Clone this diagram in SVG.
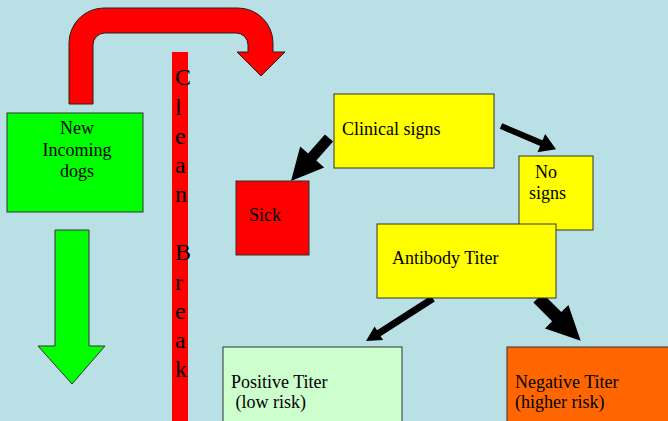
<svg xmlns="http://www.w3.org/2000/svg" width="668" height="421" viewBox="0 0 668 421">
<style>
.box{stroke:#333;stroke-width:1}
.t{font-family:"Liberation Serif","Times New Roman",serif;font-size:18px;fill:#000}
.cb{font-family:"Liberation Serif","Times New Roman",serif;font-size:24px;fill:#000}
.arr{fill:#000}
</style>
<rect width="668" height="421" fill="#B9E0E4"/>
<g id="uturn">
<path d="M69,104 L69,43 A35,35 0 0 1 104,8 L238,8 A35,35 0 0 1 273,43 L273,52 L285,52 L261,76 L237,52 L248,52 L248,45 A12,12 0 0 0 236,33 L105,33 A12,12 0 0 0 93,45 L93,104 Z" fill="#FF0000" stroke="#222" stroke-width="1"/>
</g>
<g id="clean-break">
<rect x="172" y="52" width="16" height="369" fill="#FF0000"/>
<text class="cb" x="175" y="85">C</text>
<text class="cb" x="175" y="115">l</text>
<text class="cb" x="175" y="144">e</text>
<text class="cb" x="175" y="173">a</text>
<text class="cb" x="175" y="202">n</text>
<text class="cb" x="175" y="260">B</text>
<text class="cb" x="175" y="290">r</text>
<text class="cb" x="175" y="319">e</text>
<text class="cb" x="175" y="348">a</text>
<text class="cb" x="175" y="377">k</text>
</g>
<g id="new-dogs">
<rect class="box" x="7" y="113" width="136" height="99" fill="#00FF00"/>
<text class="t" x="77" y="134" text-anchor="middle">New</text>
<text class="t" x="77" y="156" text-anchor="middle">Incoming</text>
<text class="t" x="77" y="177" text-anchor="middle">dogs</text>
</g>
<g id="down-arrow">
<path d="M55,230 L89,230 L89,346 L105,346 L72,384 L38,346 L55,346 Z" fill="#00FF00" stroke="#333" stroke-width="1"/>
</g>
<g id="connectors">
<polygon class="arr" points="333.1,141.6 316.3,160.6 324.2,167.6 291,181 300.2,146.4 308.1,153.4 324.9,134.4"/>
<polygon class="arr" points="499.8,128.8 540.1,145.9 537.4,152.3 556,149.3 545.2,133.9 542.5,140.3 502.2,123.2"/>
<polygon class="arr" points="434.8,301.5 380.6,336.2 383.2,340 366,341 374.6,326.4 377,330.2 431.2,295.5"/>
<polygon class="arr" points="533.4,302.6 552.1,321.3 545,328.4 580.7,340.7 568.4,305 561.3,312.1 542.6,293.4"/>
</g>
<g id="clinical">
<rect class="box" x="334" y="94" width="160" height="74" fill="#FFFF00"/>
<text class="t" x="342" y="135">Clinical signs</text>
</g>
<g id="sick">
<rect class="box" x="236" y="181" width="73" height="74" fill="#FF0000"/>
<text class="t" x="249" y="221">Sick</text>
</g>
<g id="no-signs">
<rect class="box" x="519" y="156" width="74" height="74" fill="#FFFF00"/>
<text class="t" x="535" y="178">No</text>
<text class="t" x="529" y="199">signs</text>
</g>
<g id="antibody">
<rect class="box" x="377" y="224" width="179" height="74" fill="#FFFF00"/>
<text class="t" x="392" y="264">Antibody Titer</text>
</g>
<g id="positive">
<rect class="box" x="223" y="347" width="179" height="80" fill="#CCFFCC"/>
<text class="t" x="231" y="388">Positive Titer</text>
<text class="t" x="231" y="408" xml:space="preserve"> (low risk)</text>
</g>
<g id="negative">
<rect class="box" x="507" y="347" width="170" height="80" fill="#FF6600"/>
<text class="t" x="515" y="388">Negative Titer</text>
<text class="t" x="515" y="408">(higher risk)</text>
</g>
</svg>
